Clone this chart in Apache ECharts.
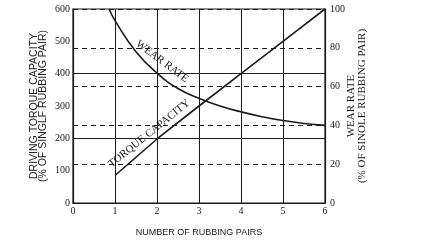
<!DOCTYPE html>
<html>
<head>
<meta charset="utf-8">
<script src="https://cdn.jsdelivr.net/npm/echarts@6/dist/echarts.min.js"></script>
<style>
  html, body { margin: 0; padding: 0; background: #fff; }
  #chart { width: 427px; height: 245px; }
</style>
</head>
<body>
<div id="chart"></div>
<script>
// values
const torquePairs = [1, 2, 3, 4, 5, 6];
const torqueCapacity = [85, 198, 300, 400, 500, 600];   // left axis, %
const wearPairs = [0.86, 1, 1.5, 2, 2.5, 3, 3.5, 4, 4.5, 5, 5.5, 6];
const wearRate = [100, 94, 78, 67, 59, 54, 50, 47, 44.5, 42.5, 41, 40]; // right axis, %
const solidLevels = [200, 400];

const ink = '#1a1a1a';
const serif = 'Liberation Serif';
const sans = 'Liberation Sans';

let chart = echarts.init(document.getElementById('chart'));
let option = {
    backgroundColor: '#fff',
    animation: false,
    grid: {
        left: 73, right: 102, top: 9, bottom: 42,
        show: true, borderColor: ink, borderWidth: 1.2
    },
    xAxis: {
        type: 'value', min: 0, max: 6, interval: 1,
        name: 'NUMBER OF RUBBING PAIRS',
        nameLocation: 'middle', nameGap: 25,
        nameTextStyle: { color: ink, fontFamily: sans, fontSize: 9 },
        axisLine: { lineStyle: { color: ink, width: 1.2 } },
        axisTick: { inside: true, length: 4, lineStyle: { color: ink } },
        axisLabel: { color: ink, fontFamily: serif, fontSize: 10, margin: 3 },
        splitLine: { show: true, lineStyle: { color: ink, width: 1 } }
    },
    yAxis: [
        {
            type: 'value', min: 0, max: 600, interval: 100,
            name: 'DRIVING TORQUE CAPACITY\n(% OF SINGLF RUBBING PAIR)',
            nameLocation: 'middle', nameGap: 25, nameRotate: 90, nameMoveOverlap: false,
            nameTextStyle: { color: ink, fontFamily: sans, fontSize: 10.5, lineHeight: 9.5 },
            axisLine: { show: true, lineStyle: { color: ink, width: 1.2 } },
            axisTick: { show: false },
            axisLabel: { color: ink, fontFamily: serif, fontSize: 10, margin: 3 },
            splitLine: { show: false }
        },
        {
            type: 'value', min: 0, max: 100, interval: 20, position: 'right',
            name: 'WEAR RATE\n(% OF SINOLE RUBBING PAIR)',
            nameLocation: 'middle', nameGap: 21, nameRotate: 90, nameMoveOverlap: false,
            nameTextStyle: { color: ink, fontFamily: serif, fontSize: 11, lineHeight: 11 },
            axisLine: { show: true, lineStyle: { color: ink, width: 1.2 } },
            axisTick: { show: false },
            axisLabel: { color: ink, fontFamily: serif, fontSize: 10, margin: 5 },
            splitLine: { show: true, lineStyle: { color: ink, width: 1, type: [5, 4] } }
        }
    ],
    series: [
        {
            name: 'TORQUE CAPACITY', type: 'line', yAxisIndex: 0,
            data: torquePairs.map((x, i) => [x, torqueCapacity[i]]),
            showSymbol: false,
            lineStyle: { color: ink, width: 1.6 },
            markLine: {
                silent: true, symbol: 'none', label: { show: false },
                lineStyle: { color: ink, width: 1, type: 'solid' },
                data: solidLevels.map(v => ({ yAxis: v }))
            }
        },
        {
            name: 'WEAR RATE', type: 'line', yAxisIndex: 1, smooth: true,
            data: wearPairs.map((x, i) => [x, wearRate[i]]),
            showSymbol: false,
            lineStyle: { color: ink, width: 1.6 }
        }
    ]
};
chart.setOption(option);

// curve labels sit just beside their lines
function besideLine(p, deg, dist) {
    let a = deg * Math.PI / 180;
    return [p[0] + dist * Math.sin(a), p[1] - dist * Math.cos(a)];
}
let wearPos = besideLine(chart.convertToPixel({ xAxisIndex: 0, yAxisIndex: 1 }, [1.95, 68]), 37, 12);
let torquePos = besideLine(chart.convertToPixel({ xAxisIndex: 0, yAxisIndex: 0 }, [1.95, 193]), -39, 9);
chart.setOption({
    graphic: [
        {
            type: 'text', x: wearPos[0], y: wearPos[1], rotation: -37 * Math.PI / 180,
            style: { text: 'WEAR RATE', fill: ink, font: '11px "Liberation Serif"', align: 'center', verticalAlign: 'middle' }
        },
        {
            type: 'text', x: torquePos[0], y: torquePos[1], rotation: 39 * Math.PI / 180,
            style: { text: 'TORQUE CAPACITY', fill: ink, font: '11px "Liberation Serif"', align: 'center', verticalAlign: 'middle' }
        }
    ]
});
</script>
</body>
</html>
